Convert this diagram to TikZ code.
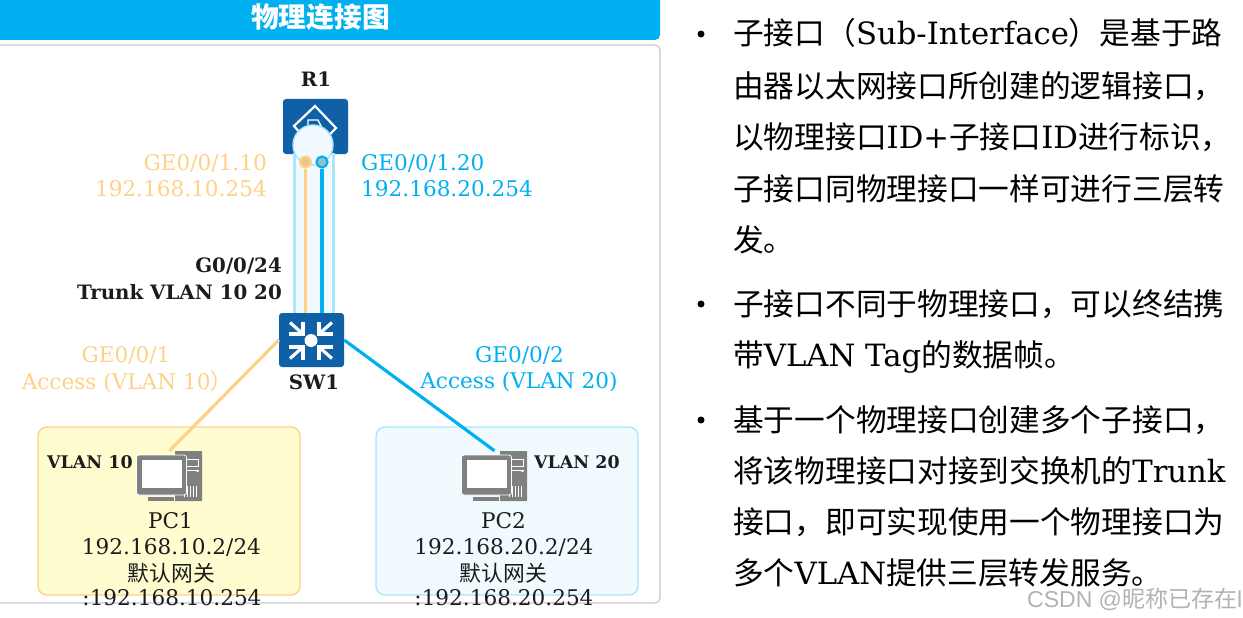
\documentclass[tikz,border=0pt]{standalone}
\usepackage{fontspec}
\usepackage{tikz}
\usetikzlibrary{
    positioning,
    arrows.meta
}
\setmainfont{DejaVu Serif}
\newfontfamily\cjk{Noto Sans CJK SC}
\newfontfamily\wmfont{Liberation Sans}
\newcommand{\zh}[1]{{\cjk #1}}
\definecolor{TitleBlue}{RGB}{0,176,240}
\definecolor{IconBlue}{RGB}{16,96,168}
\definecolor{LinkOrange}{RGB}{255,208,135}
\definecolor{LinkBlue}{RGB}{0,176,240}
\definecolor{TubeBlue}{RGB}{170,230,250}
\definecolor{TubeFill}{RGB}{240,250,255}
\definecolor{AreaYellow}{RGB}{255,253,208}
\definecolor{PanelGray}{RGB}{200,200,200}
\definecolor{PcGray}{RGB}{128,128,128}
\definecolor{InkDark}{RGB}{28,28,28}

\begin{document}
\begin{tikzpicture}[
    x=1pt, y=-1pt,
    lab/.style={font=\fontsize{21.6}{24}\selectfont, inner sep=0pt, text=InkDark},
    blab/.style={font=\fontsize{19.8}{24}\selectfont\bfseries, inner sep=0pt, text=InkDark},
    tag/.style={font=\fontsize{17.4}{24}\selectfont\bfseries, inner sep=0pt, text=InkDark, anchor=base west},
    olab/.style={lab, text=LinkOrange},
    clab/.style={lab, text=LinkBlue},
    icon/.style={rectangle, fill=IconBlue, rounded corners=3pt, inner sep=0pt},
    pcbox/.style={rectangle, minimum width=65pt, minimum height=50pt, inner sep=0pt},
    vlanbox/.style={rectangle, rounded corners=9pt, line width=1.4pt, minimum width=262pt, minimum height=168pt},
    ball/.style={circle, line width=2.2pt, minimum size=11pt, inner sep=0pt},
    olink/.style={line width=3.2pt, color=LinkOrange},
    clink/.style={line width=3.2pt, color=LinkBlue},
    txt/.style={anchor=base west, font=\fontsize{30.7}{36}\selectfont, inner sep=0pt, text=black},
    dotmark/.style={circle, fill=black, minimum size=7pt, inner sep=0pt},
    swarrow/.style={white, line width=3.2pt, miter limit=10},
]
\useasboundingbox (0,0) rectangle (1243,618);

% left panel
\node[rectangle, fill=TitleBlue, rounded corners=5pt, minimum width=670pt, minimum height=50pt, inner sep=0pt] (bar) at (325,15) {};
\node[font=\fontsize{27.8}{30}\selectfont\cjk\bfseries, text=white, inner sep=0pt] (title) at (320.5,17) {物理连接图};
\node[rectangle, draw=PanelGray, line width=1.2pt, rounded corners=5pt, minimum width=670pt, minimum height=558pt, inner sep=0pt] (panel) at (325,324) {};

% vlan areas
\node[vlanbox, draw=LinkOrange, fill=AreaYellow] (area10) at (169,511) {};
\node[vlanbox, draw=TubeBlue, fill=TubeFill] (area20) at (507,511) {};

% R1
\node[icon, minimum width=65pt, minimum height=55pt] (r1) at (315.5,126.5) {};
\draw[white, line width=2.2pt] (315,106) -- (336,128) -- (315,150) -- (294,126) -- cycle;
\draw[white, line width=1.4pt] (308,130) -- (308,120) -- (318,120) -- (321,126);
\node[rectangle, draw=TubeBlue, fill=TubeFill, line width=2.2pt, minimum width=39pt, minimum height=160pt, inner sep=0pt] (tube) at (314,234) {};
\node[circle, draw=TubeBlue, fill=TubeFill, line width=1.4pt, minimum size=40pt, inner sep=0pt] (core) at (313,145) {};
\node[blab] (r1name) at (316,79) {R1};

% SW1
\node[icon, minimum width=65pt, minimum height=54pt] (sw) at (311.5,340) {};
\node[circle, fill=white, minimum size=13pt, inner sep=0pt] (swdot) at (311,340.5) {};
\foreach \sx/\sy in {1/1,-1/1,1/-1,-1/-1}{
  \begin{scope}[shift={(swdot.center)}, xscale=\sx, yscale=\sy]
    \draw[swarrow] (-22,-6.5) -- (-8,-6.5) -- (-8,-19);
    \draw[swarrow] (-8,-6.5) -- (-21,-18);
  \end{scope}
}
\node[blab, below=7pt of sw, xshift=2.5pt] (swname) {SW1};

% sub interfaces
\node[ball, draw=LinkOrange, fill=LinkOrange!85!gray] (sub10) at (305.5,162) {};
\node[ball, draw=LinkBlue, fill=LinkBlue!35!gray!60!white] (sub20) at (322,162) {};

% pcs
\foreach \name/\xc in {pc1/169.5, pc2/494.5}{
  \node[pcbox] (\name) at (\xc,476) {};
  \begin{scope}[shift={(\name.center)}]
    \fill[PcGray, rounded corners=0.5pt] (5.5,-25) rectangle (32.5,25);
    \draw[white, line width=0.7pt] (10,-17) rectangle (29,-10);
    \draw[white, line width=0.7pt] (10,-6) -- (29,-6);
    \fill[white] (28,-5) circle (1.4);
    \foreach \i in {0,1,2,3,4}{
      \draw[white, line width=0.7pt] (15+3*\i,10) -- (15+3*\i,21);
    }
    \fill[PcGray, draw=white, line width=0.8pt, rounded corners=2.5pt] (-33,-21) rectangle (17,19);
    \fill[white] (-27.5,-16.5) rectangle (12.5,12);
    \fill[PcGray] (-21.5,21) rectangle (4.5,25);
  \end{scope}
}
\node[tag] (tag10) at (47,468) {VLAN 10};
\node[tag] (tag20) at (534,468) {VLAN 20};

\node[lab] (pc1name) at (170.5,521) {PC1};
\node[lab] (pc1ip) at (171.5,547) {192.168.10.2/24};
\node[lab, font=\fontsize{21.8}{24}\selectfont\cjk] (pc1gw) at (171.5,573) {默认网关};
\node[lab] (pc1gwip) at (172,598) {:192.168.10.254};
\node[lab] (pc2name) at (503.5,521) {PC2};
\node[lab] (pc2ip) at (504,547) {192.168.20.2/24};
\node[lab, font=\fontsize{21.8}{24}\selectfont\cjk] (pc2gw) at (503.5,573) {默认网关};
\node[lab] (pc2gwip) at (504,598) {:192.168.20.254};

% interface labels
\node[olab, anchor=east] (if10) at (267,163) {GE0/0/1.10};
\node[olab, anchor=east] (ip10) at (267,189) {192.168.10.254};
\node[clab, anchor=west] (if20) at (361,163) {GE0/0/1.20};
\node[clab, anchor=west] (ip20) at (361,189) {192.168.20.254};
\node[blab, anchor=east] (trunk1) at (282,266.5) {G0/0/24};
\node[blab, anchor=east] (trunk2) at (282,292.5) {Trunk VLAN 10 20};
\node[olab] (acc10a) at (126,355.5) {GE0/0/1};
\node[olab] (acc10b) at (127,382) {Access (VLAN 10\zh{）}};
\node[clab] (acc20a) at (519.5,355) {GE0/0/2};
\node[clab] (acc20b) at (519,381.5) {Access (VLAN 20)};

% links
\draw[olink] (sub10) -- (sub10 |- sw.north);
\draw[clink] (sub20) -- (sub20 |- sw.north);
\draw[olink] (sw.west) -- (pc1.north);
\draw[clink] (sw.east) -- (pc2.north);

% right text
\node[dotmark] (b1) at (701,34) {};
\node[dotmark] (b2) at (701,304) {};
\node[dotmark] (b3) at (701,420) {};
\node[txt] (l1) at (733,45) {\zh{子接口（}Sub-Interface\zh{）是基于路}};
\node[txt] (l2) at (733,97) {\zh{由器以太网接口所创建的逻辑接口，}};
\node[txt] (l3) at (733,148) {\zh{以物理接口}ID+\zh{子接口}ID\zh{进行标识，}};
\node[txt] (l4) at (733,200) {\zh{子接口同物理接口一样可进行三层转}};
\node[txt] (l5) at (733,251) {\zh{发。}};
\node[txt] (l6) at (733,315) {\zh{子接口不同于物理接口，可以终结携}};
\node[txt] (l7) at (733,366) {\zh{带}VLAN Tag\zh{的数据帧。}};
\node[txt] (l8) at (733,431) {\zh{基于一个物理接口创建多个子接口，}};
\node[txt] (l9) at (733,482) {\zh{将该物理接口对接到交换机的}Trunk};
\node[txt] (l10) at (733,533) {\zh{接口，即可实现使用一个物理接口为}};
\node[txt] (l11) at (733,584) {\zh{多个}VLAN\zh{提供三层转发服务。}};

% watermark
\node[anchor=base west, font=\fontsize{23}{24}\selectfont\wmfont, text=gray!60, inner sep=0pt] (mark) at (1027,607) {CSDN @\zh{昵称已存在}l};
\end{tikzpicture}
\end{document}
